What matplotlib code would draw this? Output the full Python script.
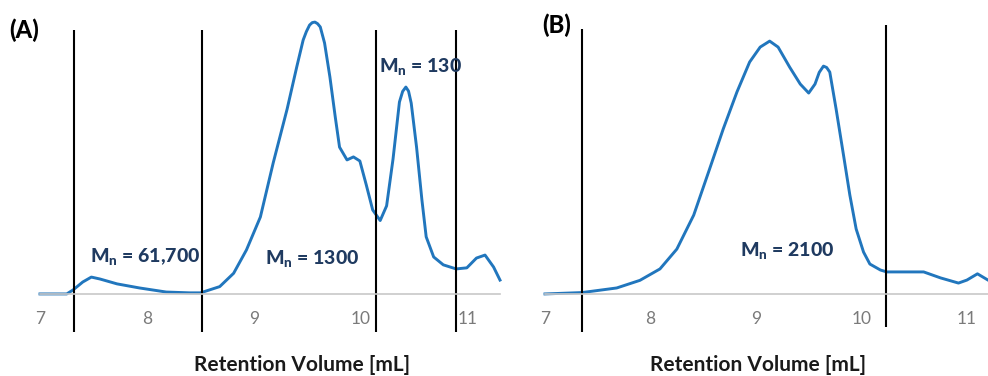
import matplotlib
matplotlib.use("Agg")
import matplotlib.pyplot as plt

plt.rcParams['font.family'] = ['Lato', 'DejaVu Sans']
plt.rcParams['mathtext.fontset'] = 'custom'
plt.rcParams['mathtext.rm'] = 'Lato'
plt.rcParams['mathtext.bf'] = 'Lato:black'

# Panel A trace (retention volume [mL], normalised signal)
vol_a = [7.00, 7.25, 7.31, 7.40, 7.48, 7.56, 7.72, 7.93, 8.18, 8.40, 8.50, 8.68, 8.81,
         8.93, 9.06, 9.18, 9.31, 9.40, 9.46, 9.49, 9.52, 9.545, 9.57, 9.595, 9.62, 9.66,
         9.71, 9.76, 9.80, 9.87, 9.93, 9.99, 10.05, 10.11, 10.18, 10.24, 10.30, 10.36,
         10.39, 10.42, 10.445, 10.47, 10.52, 10.57, 10.61, 10.68, 10.77, 10.89, 10.99,
         11.08, 11.16, 11.24, 11.30]
sig_a = [0, 0, 1.5, 4.4, 6.2, 5.5, 3.7, 2.2, 0.7, 0.4, 0.4, 2.7, 7.6,
         16.2, 28.3, 48.2, 68.0, 83.5, 93.4, 96.5, 98.9, 99.8, 100, 99.4, 98.2, 92.3,
         79.8, 65.1, 54.0, 49.3, 50.4, 48.9, 40.1, 30.9, 27.0, 32.4, 49.6, 70.6,
         74.5, 76.1, 74.6, 70.2, 54.0, 34.6, 21.0, 13.6, 10.7, 9.2, 9.6,
         13.2, 14.3, 9.9, 5.1]
cuts_a = [7.32, 8.51, 10.14, 10.89]
labels_a = ["61,700", "1300", "130"]

# Panel B trace
vol_b = [7.00, 7.35, 7.68, 7.90, 8.09, 8.25, 8.41, 8.56, 8.69, 8.82, 8.94, 9.04, 9.13,
         9.21, 9.32, 9.42, 9.50, 9.56, 9.60, 9.64, 9.67, 9.70, 9.76, 9.83, 9.89, 9.95,
         10.02, 10.08, 10.18, 10.24, 10.59, 10.75, 10.92, 11.00, 11.10, 11.20]
sig_b = [0, 0.5, 2.2, 5.0, 9.2, 16.5, 29.0, 45.9, 60.7, 74.3, 85.3, 90.8, 93.0,
         90.8, 83.4, 77.2, 73.9, 77.2, 81.5, 83.8, 83.3, 81.6, 68.0, 51.1, 36.4, 23.9,
         15.4, 11.0, 8.8, 8.1, 8.1, 5.9, 4.0, 5.1, 7.4, 5.1]
cuts_b = [7.35, 10.23]
labels_b = ["2100"]

ticks = [7, 8, 9, 10, 11]

line_color = "#2176bd"
text_color = "#1f3a60"

fig = plt.figure(figsize=(9.88, 3.76), dpi=100)
ax_a = fig.add_axes([40 / 988, 44 / 376, 460 / 988, 314 / 376])
ax_b = fig.add_axes([545 / 988, 44 / 376, 443 / 988, 314 / 376])


def style(ax, xmax, label_x):
    ax.set_xlim(7, xmax)
    ax.set_ylim(-14, 101.5)
    for s in ["top", "right", "left"]:
        ax.spines[s].set_visible(False)
    ax.spines["bottom"].set_position(("data", 0))
    ax.spines["bottom"].set_color("#c8c8c8")
    ax.spines["bottom"].set_linewidth(1.2)
    ax.set_yticks([])
    ax.set_xticks(ticks)
    ax.tick_params(axis="x", length=0, pad=12, labelsize=12.5, labelcolor="#7a7a7a")
    ax.set_xlabel("Retention Volume [mL]", fontsize=15, fontweight="bold",
                  color="#1a1a1a", va="center")
    ax.xaxis.set_label_coords(label_x, -0.105)
    ax.patch.set_visible(False)


style(ax_a, 11.3, 0.57)
style(ax_b, 11.2, 0.48)

ax_a.plot(vol_a, sig_a, color=line_color, lw=2.1, solid_joinstyle="round", clip_on=False)
ax_b.plot(vol_b, sig_b, color=line_color, lw=2.1, solid_joinstyle="round", clip_on=False)

ax_a.vlines(cuts_a, -14, 97, color="black", lw=1.5, clip_on=False)
ax_b.vlines(cuts_b[0], -14, 97.5, color="black", lw=1.5, clip_on=False)
ax_b.vlines(cuts_b[1], -12.2, 98.9, color="black", lw=1.5, clip_on=False)

lab_kw = dict(fontsize=14, fontweight="black", color=text_color, va="center")
ax_a.text(7.47, 13.6, "M$_\\mathbf{n}$ = " + labels_a[0], **lab_kw)
ax_a.text(9.10, 12.9, "M$_\\mathbf{n}$ = " + labels_a[1], **lab_kw)
ax_a.text(10.17, 83.5, "M$_\\mathbf{n}$ = " + labels_a[2], **lab_kw)
ax_b.text(8.85, 15.5, "M$_\\mathbf{n}$ = " + labels_b[0], **lab_kw)

fig.text(9 / 988, 1 - 30 / 376, "(A)", fontsize=17, fontweight="black", va="center")
fig.text(542 / 988, 1 - 25 / 376, "(B)", fontsize=17, fontweight="black", va="center")

fig.savefig("out.png", dpi=100)
